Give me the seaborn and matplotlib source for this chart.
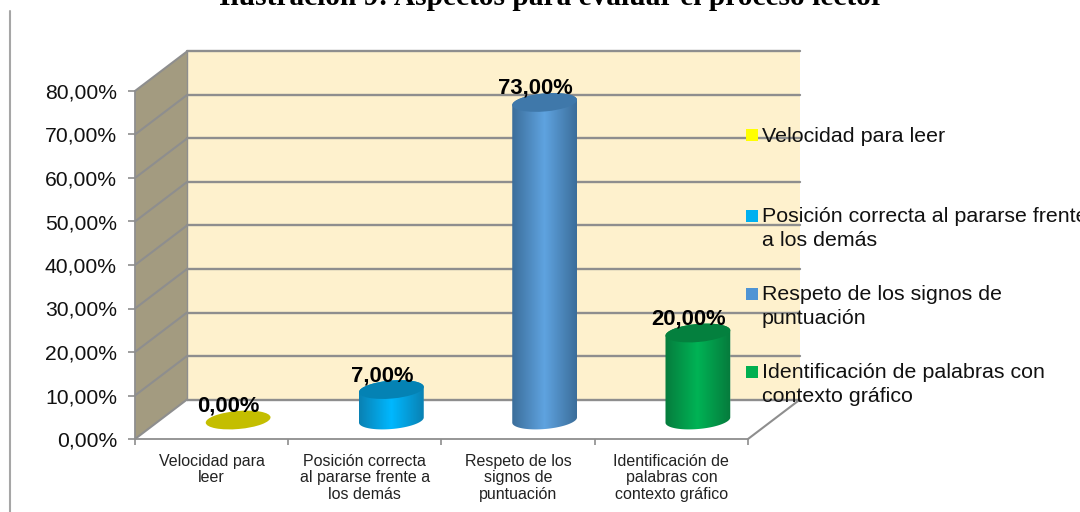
import numpy as np
import pandas as pd
import matplotlib
matplotlib.use("Agg")
import matplotlib.pyplot as plt
import seaborn as sns
from matplotlib.colors import LinearSegmentedColormap
from matplotlib.patches import Ellipse, PathPatch, Polygon, Rectangle
from matplotlib.path import Path
from matplotlib.ticker import FixedLocator
from matplotlib.transforms import Affine2D, IdentityTransform

# ---- data ----
titulo = "Ilustración 9: Aspectos para evaluar el proceso lector"
categorias = ["Velocidad para\nleer", "Posición correcta\nal pararse frente a\nlos demás",
              "Respeto de los\nsignos de\npuntuación", "Identificación de\npalabras con\ncontexto gráfico"]
leyenda = ["Velocidad para leer", "Posición correcta al pararse frente\na los demás",
           "Respeto de los signos de\npuntuación", "Identificación de palabras con\ncontexto gráfico"]
valores = [0, 7, 73, 20]
marcas_y = [0, 10, 20, 30, 40, 50, 60, 70, 80]

# ---- styles ----
centro = ["#C4BE00", "#00B8FF", "#5FA3E0", "#00B355"]
borde = ["#C4BE00", "#0A7FB0", "#3A6C98", "#067A3C"]
tapa = ["#C4BE00", "#0482B4", "#3F78AA", "#04803E"]
leyenda_col = ["#FFFF00", "#00B0F0", "#4F94D4", "#00B050"]
gris = "#8E8E8E"
W, H = 1080, 512
DEPTH = (52, 39.5)
BASE = (26.5, 19)
fmt = lambda v: f"{v:.2f}".replace(".", ",") + "%"

sns.set_theme(style="white")
plt.rcParams["font.family"] = ["Liberation Sans", "DejaVu Sans"]

fig = plt.figure(figsize=(W / 100, H / 100), dpi=100, facecolor="white")
ax = fig.add_axes([135 / W, 1 - 439 / H, (748 - 135) / W, (439 - 91) / H])
ax.patch.set_visible(False)

df = pd.DataFrame({"cat": categorias, "val": valores})
sns.barplot(data=df, x="cat", y="val", hue="cat", palette=borde, legend=False,
            width=0.40, ax=ax, zorder=5, saturation=1)
barras = list(ax.patches)
ax.set_xlim(-0.5, 3.5)
ax.set_ylim(0, 80)
ax.set_xlabel("")
ax.set_ylabel("")
for s in ["top", "right"]:
    ax.spines[s].set_visible(False)
for s in ["left", "bottom"]:
    ax.spines[s].set_color(gris)
    ax.spines[s].set_linewidth(1.3)

ax.set_yticks(marcas_y)
ax.set_yticklabels([fmt(v) for v in marcas_y], fontsize=15.2, color="#111111")
ax.set_xticks(range(len(categorias)))
ax.set_xticklabels(categorias, fontsize=11.5, color="#222222", linespacing=1.154)
ax.xaxis.set_minor_locator(FixedLocator(np.arange(-0.5, 3.6, 1)))
ax.tick_params(axis="x", which="major", length=0, pad=10.5)
ax.tick_params(axis="x", which="minor", length=4, width=1.2, color=gris, bottom=True)
ax.tick_params(axis="y", length=5, width=1.2, color=gris, left=True, pad=8)

# walls of the 3D box
depth = Affine2D().translate(*DEPTH)
base = Affine2D().translate(*BASE)
ax.add_patch(Rectangle((0, 0), 1, 1, transform=ax.transAxes + depth, fc="#FEF1CD", ec="none",
                       zorder=0.5, clip_on=False))
to_px = ax.transData.transform
p0, p80 = to_px((-0.5, 0)), to_px((-0.5, 80))
dx, dy = DEPTH
ax.add_patch(Polygon([p0, p80, p80 + DEPTH, p0 + DEPTH], transform=IdentityTransform(), fc="#A39B80",
                     ec="none", zorder=0.6, clip_on=False))
for v in marcas_y:
    ax.plot([-0.5, 3.5], [v, v], transform=ax.transData + depth, color=gris, lw=1.7, zorder=1, clip_on=False)
    a = to_px((-0.5, v))
    ax.plot([a[0], a[0] + dx], [a[1], a[1] + dy], transform=IdentityTransform(), color=gris, lw=1.5, zorder=1,
            clip_on=False)
r0 = to_px((3.5, 0))
ax.plot([r0[0], r0[0] + dx], [r0[1], r0[1] + dy], transform=IdentityTransform(), color=gris, lw=1.5, zorder=1,
        clip_on=False)
ax.plot([p0[0] + dx] * 2, [p0[1] + dy, p80[1] + dy], transform=IdentityTransform(), color=gris, lw=1, zorder=1,
        clip_on=False)

# cylinders: the seaborn bars, shifted onto the floor, with shading and caps
A, B, TILT = 32.5, 9, np.radians(5)


def arco(cx, cy, t0, t1):
    t = np.radians(np.linspace(t0, t1, 60))
    return np.column_stack([cx + A * np.cos(t) * np.cos(TILT) - B * np.sin(t) * np.sin(TILT),
                            cy + A * np.cos(t) * np.sin(TILT) + B * np.sin(t) * np.cos(TILT)])


for p in barras:
    p.set_transform(ax.transData + base)
    p.set_clip_on(False)

for i, v in enumerate(valores):
    bx, by = to_px((i, 0)) + BASE
    tx, ty = to_px((i, v)) + BASE
    if v > 0:
        pts = np.vstack([arco(bx, by, 180, 360), arco(tx, ty, 0, 180)])
        path = Path(np.vstack([pts, pts[0]]), closed=True)
        cmap = LinearSegmentedColormap.from_list("c", [borde[i], centro[i], borde[i]])
        im = ax.imshow(np.linspace(0, 1, 256)[None, :], cmap=cmap, origin="lower", aspect="auto", zorder=6,
                       extent=(bx - A - 1, bx + A + 1, by - B - 4, ty + B + 4), transform=IdentityTransform())
        clip = PathPatch(path, transform=IdentityTransform(), fc="none", ec="none")
        im.set_clip_path(clip)
    ax.add_patch(Ellipse((tx, ty), 2 * A, 2 * B, angle=np.degrees(TILT), transform=IdentityTransform(),
                         fc=tapa[i], ec="none", zorder=7, clip_on=False))
    ax.annotate(fmt(v), xy=(i, v), xytext=(17 * 0.72, 33 * 0.72), textcoords="offset points", ha="center",
                va="center", fontsize=15.8, fontweight="bold", color="black", zorder=8, annotation_clip=False)
ax.set_xlim(-0.5, 3.5)
ax.set_ylim(0, 80)

# title, clipped by the top edge as in the page
fig.text(551 / W, 1 - 5 / H, titulo, ha="center", va="baseline", fontsize=21.2, fontweight="bold",
         family="Liberation Serif", color="black")

# page rule on the left
fig.add_artist(plt.Line2D([10 / W, 10 / W], [0, 1 - 11 / H], color="#A6A6A6", lw=1.5))

# legend
for y, txt, col in zip([135, 216, 294, 372], leyenda, leyenda_col):
    fig.add_artist(Rectangle((746 / W, 1 - (y + 6) / H), 12 / W, 12 / H, transform=fig.transFigure, fc=col,
                             ec="none", zorder=4))
    fig.text(762 / W, 1 - (y - 8.5) / H, txt, ha="left", va="top", fontsize=15.4, color="#111111",
             linespacing=1.32, zorder=4)

fig.savefig("out.png", dpi=100)
